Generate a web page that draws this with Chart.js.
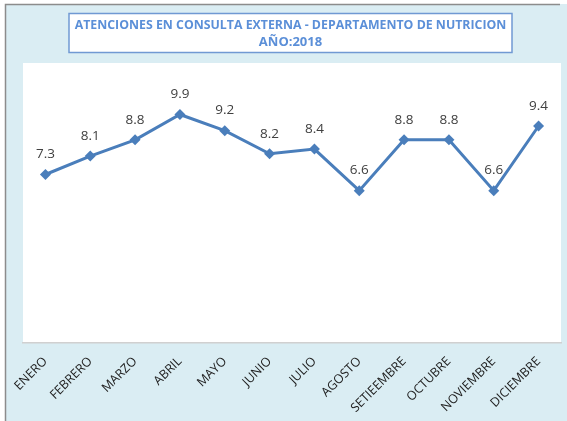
<!DOCTYPE html>
<html>
<head>
<meta charset="utf-8">
<script src="https://cdn.jsdelivr.net/npm/chart.js@4.4.1/dist/chart.umd.min.js"></script>
<style>
  html, body { margin: 0; padding: 0; background: #ffffff; }
  #wrap { width: 567px; height: 421px; position: relative; }
</style>
</head>
<body>
<div id="wrap"><canvas id="c" width="567" height="421"></canvas></div>
<script>
const months = ["ENERO","FEBRERO","MARZO","ABRIL","MAYO","JUNIO","JULIO","AGOSTO","SETIEEMBRE","OCTUBRE","NOVIEMBRE","DICIEMBRE"];
const attentions = [7.3, 8.1, 8.8, 9.9, 9.2, 8.2, 8.4, 6.6, 8.8, 8.8, 6.6, 9.4];
const titleLines = ["ATENCIONES EN CONSULTA EXTERNA - DEPARTAMENTO DE NUTRICION", "AÑO:2018"];

const bgPlugin = {
  id: 'bg',
  beforeDraw(chart) {
    const ctx = chart.ctx;
    const ca = chart.chartArea;
    ctx.save();
    ctx.fillStyle = '#ffffff';
    ctx.fillRect(0, 0, chart.width, chart.height);
    ctx.fillStyle = '#daedf3';
    ctx.fillRect(5, 4, chart.width - 5, chart.height - 4);
    ctx.strokeStyle = '#8c8c8c';
    ctx.lineWidth = 1.5;
    ctx.beginPath();
    ctx.moveTo(5.5, chart.height);
    ctx.lineTo(5.5, 4.5);
    ctx.lineTo(560, 4.5);
    ctx.stroke();
    // plot area
    ctx.fillStyle = '#ffffff';
    ctx.fillRect(ca.left, ca.top - 3, ca.right - ca.left, ca.bottom - ca.top + 3);
    // title box
    ctx.fillStyle = '#ffffff';
    ctx.fillRect(69, 13.5, 443, 39);
    ctx.strokeStyle = '#7099d3';
    ctx.lineWidth = 1.5;
    ctx.strokeRect(69, 13.5, 443, 39);
    ctx.fillStyle = '#5b8fd8';
    ctx.textAlign = 'center';
    ctx.textBaseline = 'middle';
    let fs = 13;
    ctx.font = 'bold ' + fs + 'px "Open Sans", sans-serif';
    const w = ctx.measureText(titleLines[0]).width;
    fs = fs * 432 / w;
    ctx.font = 'bold ' + fs.toFixed(2) + 'px "Open Sans", sans-serif';
    ctx.fillText(titleLines[0], 290.5, 25.5);
    ctx.font = 'bold 13px "Open Sans", sans-serif';
    ctx.fillText(titleLines[1], 290.5, 42);
    ctx.restore();
  }
};

const labelPlugin = {
  id: 'vlabels',
  afterDatasetsDraw(chart) {
    const ctx = chart.ctx;
    const meta = chart.getDatasetMeta(0);
    ctx.save();
    ctx.fillStyle = '#404040';
    ctx.font = '13.5px "Open Sans", sans-serif';
    ctx.textAlign = 'center';
    ctx.textBaseline = 'middle';
    meta.data.forEach((pt, i) => {
      ctx.fillText(attentions[i].toFixed(1), pt.x, pt.y - 20);
    });
    ctx.restore();
  }
};

new Chart(document.getElementById('c'), {
  type: 'line',
  data: {
    labels: months,
    datasets: [{
      data: attentions,
      borderColor: '#4a7ebb',
      backgroundColor: '#4a7ebb',
      borderWidth: 3,
      tension: 0,
      pointStyle: 'rectRot',
      pointRadius: 5.5,
      pointBorderWidth: 0,
      pointBackgroundColor: '#4a7ebb',
      fill: false
    }]
  },
  options: {
    responsive: false,
    animation: false,
    devicePixelRatio: 1,
    layout: { padding: { left: 23, right: 6, top: 66, bottom: 0 } },
    plugins: { legend: { display: false }, title: { display: false }, tooltip: { enabled: false } },
    scales: {
      y: { display: false, min: 0, max: 12 },
      x: {
        offset: true,
        grid: { display: false, drawTicks: false },
        border: { display: true, color: '#d0d0d0', width: 1.5 },
        ticks: {
          minRotation: 45, maxRotation: 45, autoSkip: false,
          padding: 11,
          color: '#222222',
          font: { family: '"Open Sans", sans-serif', size: 12.5 }
        },
        afterFit(scale) { scale.height = 78; }
      }
    }
  },
  plugins: [bgPlugin, labelPlugin]
});
</script>
</body>
</html>
